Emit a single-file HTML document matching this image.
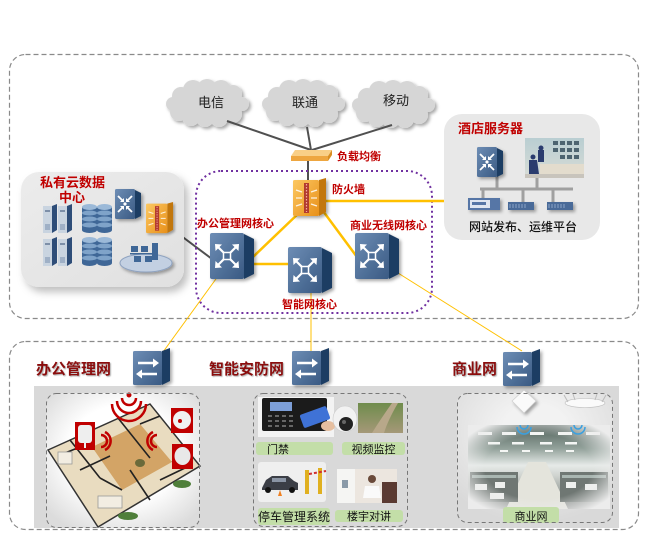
<!DOCTYPE html>
<html><head><meta charset="utf-8">
<style>
html,body{margin:0;padding:0;background:#fff;}
svg{display:block;}
text{font-family:"Liberation Sans","Noto Sans CJK SC",sans-serif;}
</style></head><body>
<svg width="649" height="543" viewBox="0 0 649 543" xmlns="http://www.w3.org/2000/svg">
<defs>
  <linearGradient id="bf" x1="0" y1="0" x2="1" y2="1"><stop offset="0" stop-color="#6d8db5"/><stop offset="1" stop-color="#3a5a83"/></linearGradient>
  <linearGradient id="of" x1="0" y1="0" x2="1" y2="1"><stop offset="0" stop-color="#fcc862"/><stop offset="1" stop-color="#e8901a"/></linearGradient>
  <linearGradient id="office" x1="0" y1="0" x2="0" y2="1">
    <stop offset="0" stop-color="#4f5f59"/><stop offset="0.28" stop-color="#93a29b"/><stop offset="0.48" stop-color="#e6eae8"/><stop offset="0.6" stop-color="#d0d4d0"/><stop offset="0.8" stop-color="#9aa09c"/><stop offset="1" stop-color="#8a8e8c"/>
  </linearGradient>
  <radialGradient id="vig" cx="0.5" cy="0.5" r="0.62"><stop offset="0.62" stop-color="#ececec" stop-opacity="0"/><stop offset="1" stop-color="#ececec" stop-opacity="1"/></radialGradient>
  <radialGradient id="wbg" cx="0.5" cy="0.45" r="0.65"><stop offset="0.55" stop-color="#ffffff"/><stop offset="1" stop-color="#dcdcdc"/></radialGradient>
  <radialGradient id="cbg" cx="0.5" cy="0.3" r="0.7"><stop offset="0.3" stop-color="#f2f2f2"/><stop offset="1" stop-color="#d9d9d9"/></radialGradient>
  <linearGradient id="pcb" x1="0" y1="0" x2="1" y2="1"><stop offset="0" stop-color="#ececec"/><stop offset="1" stop-color="#e0e0e0"/></linearGradient>
  <linearGradient id="land" x1="0" y1="0" x2="0" y2="1"><stop offset="0" stop-color="#6f8c4c"/><stop offset="1" stop-color="#a59878"/></linearGradient>
  <linearGradient id="hp" x1="0" y1="0" x2="0" y2="1"><stop offset="0" stop-color="#b9ced2"/><stop offset="1" stop-color="#d8dcd6"/></linearGradient>
  <filter id="sh" x="-30%" y="-30%" width="170%" height="170%"><feDropShadow dx="2" dy="2" stdDeviation="1.5" flood-color="#000" flood-opacity="0.35"/></filter>
  <filter id="shb" x="-20%" y="-20%" width="150%" height="150%"><feDropShadow dx="4" dy="5" stdDeviation="4" flood-color="#000" flood-opacity="0.25"/></filter>
  <filter id="tsh" x="-10%" y="-20%" width="130%" height="150%"><feDropShadow dx="1" dy="1" stdDeviation="0.4" flood-color="#555" flood-opacity="0.5"/></filter>

  <g id="cl">
    <rect x="8" y="10" width="66" height="28" rx="10"/>
    <circle cx="14" cy="16" r="9"/><circle cx="26" cy="10" r="10"/><circle cx="40" cy="9" r="10"/><circle cx="54" cy="10" r="10"/><circle cx="66" cy="14" r="9"/>
    <circle cx="12" cy="32" r="9"/><circle cx="24" cy="37" r="9"/><circle cx="38" cy="38" r="9"/><circle cx="52" cy="38" r="9"/><circle cx="66" cy="34" r="9"/>
    <circle cx="6" cy="24" r="7"/><circle cx="75" cy="24" r="7"/>
  </g>

  <g id="core">
    <polygon points="34,1 44,6 44,41 34,46" fill="#1d3d63"/>
    <rect x="0" y="0" width="34" height="46" rx="2" fill="url(#bf)"/>
    <path d="M17 23 L8 14 M17 23 L26 14 M17 23 L8 32 M17 23 L26 32" stroke="#fff" stroke-width="2.2" fill="none" stroke-linecap="round"/>
    <g fill="#fff">
      <polygon points="5,11 12,11.5 5.5,18"/><polygon points="29,11 22,11.5 28.5,18"/>
      <polygon points="5,35 12,34.5 5.5,28"/><polygon points="29,35 22,34.5 28.5,28"/>
    </g>
    <rect x="13.5" y="19.5" width="7" height="7" fill="#4d6d95" stroke="#fff" stroke-width="1.5"/>
  </g>

  <g id="rt">
    <polygon points="20,1 26,4 26,27 20,30" fill="#1d3d63"/>
    <rect x="0" y="0" width="20" height="30" rx="1.5" fill="url(#bf)"/>
    <path d="M3 7 L8 12 M17 7 L12 12 M3 23 L8 18 M17 23 L12 18" stroke="#fff" stroke-width="1.8" fill="none"/>
    <g fill="#fff">
      <polygon points="9,13 9,9 5,13"/><polygon points="11,13 11,9 15,13"/>
      <polygon points="9,17 9,21 5,17"/><polygon points="11,17 11,21 15,17"/>
    </g>
    <circle cx="10" cy="15" r="1.6" fill="#fff"/>
  </g>

  <g id="acc">
    <polygon points="29,3 37,0 37,33 29,37" fill="#1d3d63"/>
    <rect x="0" y="3" width="29" height="34" rx="1.5" fill="url(#bf)"/>
    <path d="M5 15 H22 M24 26 H8" stroke="#fff" stroke-width="2.4" fill="none"/>
    <polygon points="26,15 20,10.5 20,19.5" fill="#fff"/>
    <polygon points="3,26 9,21.5 9,30.5" fill="#fff"/>
  </g>

  <g id="fw">
    <polygon points="26,2 33,0 33,34 26,38" fill="#c2770e"/>
    <rect x="0" y="2" width="26" height="36" rx="1.5" fill="url(#of)"/>
    <rect x="11" y="5" width="5" height="30" fill="#b23a2e"/>
    <line x1="13.5" y1="6" x2="13.5" y2="34" stroke="#f4a8a0" stroke-width="1.2" stroke-dasharray="1.5 1.5"/>
    <path d="M3 12 L9 14 M3 20 H9 M3 28 L9 26 M18 14 L24 12 M18 20 H24 M18 26 L24 28" stroke="#fff" stroke-width="1.3" opacity="0.85"/>
  </g>
</defs>

<!-- outer dashed boxes -->
<rect x="9.5" y="54.5" width="629" height="264" rx="16" fill="none" stroke="#8a8a8a" stroke-width="1.2" stroke-dasharray="5 3"/>
<rect x="9.5" y="341.5" width="629" height="188" rx="16" fill="none" stroke="#8a8a8a" stroke-width="1.2" stroke-dasharray="5 3"/>

<!-- clouds -->
<g fill="#d6d6d6" filter="url(#sh)">
  <use href="#cl" transform="translate(167,80)"/>
  <use href="#cl" transform="translate(263,80)"/>
  <use href="#cl" transform="translate(353,81)"/>
</g>
<text x="211" y="107" font-size="13" text-anchor="middle" fill="#222">电信</text>
<text x="305" y="107" font-size="13" text-anchor="middle" fill="#222">联通</text>
<text x="396" y="105" font-size="13" text-anchor="middle" fill="#222">移动</text>

<!-- dark links -->
<g stroke="#505050" stroke-width="2" fill="none">
  <line x1="227" y1="121" x2="311" y2="150"/>
  <line x1="307" y1="127" x2="311" y2="150"/>
  <line x1="392" y1="125" x2="312" y2="150"/>
  <line x1="308" y1="160" x2="308" y2="182"/>
  <line x1="172" y1="229" x2="212" y2="259"/>
  <line x1="140" y1="203" x2="149" y2="209"/>
</g>

<!-- private cloud box -->
<rect x="21" y="172" width="163" height="115" rx="18" fill="url(#pcb)" filter="url(#shb)"/>
<text x="40" y="187" font-size="13" font-weight="bold" fill="#c00000">私有云数据</text>
<text x="72" y="202" font-size="13" font-weight="bold" fill="#c00000" text-anchor="middle">中心</text>
<g>
  <g transform="translate(43,204)"><rect x="0" y="2" width="9" height="27" fill="#c9d4e0"/><polygon points="9,2 14,0 14,26 9,29" fill="#2e4d78"/><rect x="2" y="6" width="5" height="2" fill="#7d8fa8"/><rect x="2" y="20" width="5" height="6" fill="#9fb0c6"/></g>
  <g transform="translate(58,204)"><rect x="0" y="2" width="9" height="27" fill="#c9d4e0"/><polygon points="9,2 14,0 14,26 9,29" fill="#2e4d78"/><rect x="2" y="6" width="5" height="2" fill="#7d8fa8"/><rect x="2" y="20" width="5" height="6" fill="#9fb0c6"/></g>
  <g transform="translate(43,237)"><rect x="0" y="2" width="9" height="27" fill="#c9d4e0"/><polygon points="9,2 14,0 14,26 9,29" fill="#2e4d78"/><rect x="2" y="6" width="5" height="2" fill="#7d8fa8"/><rect x="2" y="20" width="5" height="6" fill="#9fb0c6"/></g>
  <g transform="translate(58,237)"><rect x="0" y="2" width="9" height="27" fill="#c9d4e0"/><polygon points="9,2 14,0 14,26 9,29" fill="#2e4d78"/><rect x="2" y="6" width="5" height="2" fill="#7d8fa8"/><rect x="2" y="20" width="5" height="6" fill="#9fb0c6"/></g>
</g>
<g>
  <g transform="translate(82,204)"><rect x="0" y="3" width="15" height="23" fill="#3f6797"/><ellipse cx="7.5" cy="26" rx="7.5" ry="3" fill="#3f6797"/><ellipse cx="7.5" cy="9" rx="7.5" ry="2.5" fill="#7fa3c9"/><ellipse cx="7.5" cy="15" rx="7.5" ry="2.5" fill="#7fa3c9"/><ellipse cx="7.5" cy="21" rx="7.5" ry="2.5" fill="#7fa3c9"/><ellipse cx="7.5" cy="3" rx="7.5" ry="3" fill="#9bb9d8"/></g>
  <g transform="translate(97,204)"><rect x="0" y="3" width="15" height="23" fill="#3f6797"/><ellipse cx="7.5" cy="26" rx="7.5" ry="3" fill="#3f6797"/><ellipse cx="7.5" cy="9" rx="7.5" ry="2.5" fill="#7fa3c9"/><ellipse cx="7.5" cy="15" rx="7.5" ry="2.5" fill="#7fa3c9"/><ellipse cx="7.5" cy="21" rx="7.5" ry="2.5" fill="#7fa3c9"/><ellipse cx="7.5" cy="3" rx="7.5" ry="3" fill="#9bb9d8"/></g>
  <g transform="translate(82,237)"><rect x="0" y="3" width="15" height="23" fill="#3f6797"/><ellipse cx="7.5" cy="26" rx="7.5" ry="3" fill="#3f6797"/><ellipse cx="7.5" cy="9" rx="7.5" ry="2.5" fill="#7fa3c9"/><ellipse cx="7.5" cy="15" rx="7.5" ry="2.5" fill="#7fa3c9"/><ellipse cx="7.5" cy="21" rx="7.5" ry="2.5" fill="#7fa3c9"/><ellipse cx="7.5" cy="3" rx="7.5" ry="3" fill="#9bb9d8"/></g>
  <g transform="translate(97,237)"><rect x="0" y="3" width="15" height="23" fill="#3f6797"/><ellipse cx="7.5" cy="26" rx="7.5" ry="3" fill="#3f6797"/><ellipse cx="7.5" cy="9" rx="7.5" ry="2.5" fill="#7fa3c9"/><ellipse cx="7.5" cy="15" rx="7.5" ry="2.5" fill="#7fa3c9"/><ellipse cx="7.5" cy="21" rx="7.5" ry="2.5" fill="#7fa3c9"/><ellipse cx="7.5" cy="3" rx="7.5" ry="3" fill="#9bb9d8"/></g>
</g>
<ellipse cx="146" cy="263" rx="26" ry="9" fill="#c3d0e2" stroke="#8fa3c0" stroke-width="1" filter="url(#sh)"/>
<g fill="#3f6797">
  <rect x="131" y="246" width="7" height="6"/><rect x="141" y="246" width="7" height="6"/><rect x="152" y="243" width="6" height="17"/>
  <rect x="134" y="256" width="7" height="6"/><rect x="145" y="256" width="7" height="6"/>
  <rect x="130" y="253" width="24" height="1.5"/>
</g>
<use href="#rt" x="115" y="189" filter="url(#sh)"/>
<use href="#fw" transform="translate(146,202) scale(0.82)" filter="url(#sh)"/>

<!-- hotel server box -->
<rect x="444" y="114" width="156" height="126" rx="18" fill="#e8e8e8"/>
<text x="458" y="133" font-size="13" font-weight="bold" fill="#c00000">酒店服务器</text>
<g stroke="#a0a0a0" stroke-width="3" fill="none">
  <line x1="480" y1="189" x2="573" y2="189"/>
  <line x1="497" y1="176" x2="497" y2="189"/>
  <line x1="537" y1="177" x2="537" y2="189"/>
  <line x1="483" y1="189" x2="483" y2="198"/>
  <line x1="523" y1="189" x2="523" y2="202"/>
  <line x1="553" y1="189" x2="553" y2="202"/>
</g>
<use href="#rt" x="477" y="147" filter="url(#sh)"/>
<rect x="525" y="138" width="59" height="40" fill="url(#hp)"/>
<g fill="#4d6470">
  <rect x="553" y="141" width="5" height="4"/><rect x="560" y="141" width="5" height="4"/><rect x="567" y="141" width="5" height="4"/><rect x="574" y="141" width="5" height="4"/>
  <rect x="553" y="148" width="5" height="4"/><rect x="560" y="148" width="5" height="4"/><rect x="567" y="148" width="5" height="4"/><rect x="574" y="148" width="5" height="4"/>
  <rect x="560" y="155" width="5" height="4"/><rect x="567" y="155" width="5" height="4"/><rect x="574" y="155" width="5" height="4"/>
</g>
<rect x="540" y="164" width="44" height="10" fill="#e3dccd"/>
<rect x="525" y="174" width="59" height="4" fill="#c8c4bc"/>
<g fill="#2a3c6e">
  <circle cx="541" cy="148" r="2.5"/><rect x="538" y="150" width="6" height="12"/>
  <circle cx="533" cy="157" r="2.5"/><path d="M529 160 h8 l2 14 h-10 z"/>
</g>
<g filter="url(#sh)">
  <rect x="468" y="198" width="32" height="12" fill="#5676a6"/><rect x="470" y="200" width="20" height="8" fill="#dfe6f0"/><rect x="472" y="202" width="14" height="3" fill="#5676a6"/>
  <rect x="508" y="202" width="26" height="8" fill="#4a6a98"/><path d="M510 204 v4 M513 204 v4 M516 204 v4 M519 204 v4 M522 204 v4 M525 204 v4" stroke="#8aa4c8" stroke-width="1"/>
  <rect x="547" y="202" width="26" height="8" fill="#4a6a98"/><path d="M549 204 v4 M552 204 v4 M555 204 v4 M558 204 v4 M561 204 v4 M564 204 v4" stroke="#8aa4c8" stroke-width="1"/>
</g>
<text x="469" y="231" font-size="12" fill="#111" font-weight="500">网站发布、运维平台</text>

<!-- core area -->
<rect x="196" y="171" width="236" height="142" rx="25" fill="none" stroke="#7030a0" stroke-width="2" stroke-dasharray="2 3"/>
<g stroke="#ffc000" stroke-width="2.5" fill="none">
  <line x1="301" y1="211" x2="253" y2="257"/>
  <line x1="254" y1="264" x2="290" y2="264"/>
  <line x1="323" y1="211" x2="357" y2="257"/>
  <line x1="326" y1="201" x2="444" y2="201"/>
</g>
<g stroke="#ffc000" stroke-width="1" fill="none">
  <line x1="221" y1="272" x2="163" y2="352"/>
  <line x1="311" y1="290" x2="311" y2="351"/>
  <line x1="398" y1="273" x2="522" y2="351"/>
</g>
<polygon points="295,150 332,150 328,156 291,156" fill="#f9cf87"/>
<polygon points="291,156 328,156 328,161 291,161" fill="#eea640"/>
<polygon points="328,156 332,150 332,155 328,161" fill="#d88e22"/>
<text x="337" y="160" font-size="11" font-weight="bold" fill="#c00000">负载均衡</text>
<use href="#fw" x="293" y="178" filter="url(#sh)"/>
<text x="332" y="193" font-size="11" font-weight="bold" fill="#c00000">防火墙</text>
<use href="#core" x="210" y="233" filter="url(#sh)"/>
<use href="#core" x="288" y="247" filter="url(#sh)"/>
<use href="#core" x="355" y="233" filter="url(#sh)"/>
<text x="197" y="227" font-size="11" font-weight="bold" fill="#c00000">办公管理网核心</text>
<text x="350" y="229" font-size="11" font-weight="bold" fill="#c00000">商业无线网核心</text>
<text x="282" y="308" font-size="11" font-weight="bold" fill="#c00000">智能网核心</text>

<!-- bottom section -->
<rect x="34" y="386" width="585" height="142" fill="#d9d9d9"/>
<text x="36" y="374" font-size="15" font-weight="bold" fill="#8b0a0a" filter="url(#tsh)">办公管理网</text>
<text x="209" y="374" font-size="15" font-weight="bold" fill="#8b0a0a" filter="url(#tsh)">智能安防网</text>
<text x="452" y="374" font-size="15" font-weight="bold" fill="#8b0a0a" filter="url(#tsh)">商业网</text>
<use href="#acc" x="133" y="348" filter="url(#sh)"/>
<use href="#acc" x="292" y="348" filter="url(#sh)"/>
<use href="#acc" x="503" y="349" filter="url(#sh)"/>

<!-- office sub box -->
<rect x="46" y="393" width="154" height="135" rx="10" fill="url(#wbg)"/>
<polygon points="48,450 150,404 200,466 98,527" fill="#e9dcc0" stroke="#333" stroke-width="1.5"/>
<polygon points="92,447 140,424 172,462 122,490" fill="#d3a466"/>
<g stroke="#222" stroke-width="1.6" fill="none">
  <path d="M70 440 L100 478 M100 478 L122 490 M118 418 L150 458 M140 424 L160 416 M172 462 L190 454 M80 470 L110 456 M130 470 L150 500 M160 480 L185 468 M60 455 L85 445"/>
</g>
<g fill="#f2ede2" stroke="#999" stroke-width="0.8">
  <rect x="98" y="496" width="24" height="12"/><rect x="58" y="452" width="14" height="12"/>
</g>
<g fill="#4f7f3a">
  <ellipse cx="128" cy="516" rx="10" ry="4"/><ellipse cx="182" cy="484" rx="9" ry="4"/><ellipse cx="140" cy="463" rx="5" ry="4" fill="#6b6a3a"/>
</g>
<g fill="none" stroke="#c00000" stroke-width="2.5">
  <path d="M122 398 A7 7 0 0 0 136 398"/>
  <path d="M117 401 A12 12 0 0 0 141 401"/>
  <path d="M112 404 A17 17 0 0 0 146 404"/>
  <path d="M101 435 A6 6 0 0 1 101 447"/><path d="M105 432 A10 10 0 0 1 105 450"/>
  <path d="M157 435 A6 6 0 0 0 157 447"/><path d="M153 432 A10 10 0 0 0 153 450"/>
</g>
<circle cx="129" cy="395" r="2.5" fill="#c00000"/>
<rect x="75" y="422" width="20" height="28" fill="#c00000"/>
<rect x="78" y="425" width="14" height="18" rx="3" fill="#eeeeee"/><rect x="84" y="443" width="2" height="5" fill="#eee"/>
<rect x="171" y="408" width="22" height="25" fill="#c00000"/>
<circle cx="182" cy="420" r="9" fill="#f0f0f0"/><circle cx="180" cy="421" r="2" fill="#c00000"/>
<rect x="172" y="444" width="21" height="25" fill="#c00000"/>
<ellipse cx="182.5" cy="456" rx="8" ry="9" fill="#e8e8e8"/>
<rect x="46.5" y="393.5" width="153" height="134" rx="10" fill="none" stroke="#777" stroke-width="1" stroke-dasharray="4 3"/>

<!-- security sub box -->
<rect x="253.5" y="393.5" width="154" height="133" rx="10" fill="none" stroke="#777" stroke-width="1" stroke-dasharray="4 3"/>
<rect x="258" y="397" width="76" height="40" fill="#f3f3f3"/>
<rect x="262" y="398" width="65" height="33" rx="2" fill="#1b1b1b"/>
<rect x="270" y="402" width="22" height="9" fill="#7d9fd8"/>
<g fill="#666">
  <rect x="268" y="415" width="4" height="2"/><rect x="275" y="415" width="4" height="2"/><rect x="282" y="415" width="4" height="2"/><rect x="289" y="415" width="4" height="2"/>
  <rect x="268" y="420" width="4" height="2"/><rect x="275" y="420" width="4" height="2"/><rect x="282" y="420" width="4" height="2"/><rect x="289" y="420" width="4" height="2"/>
  <rect x="268" y="425" width="4" height="2"/><rect x="275" y="425" width="4" height="2"/><rect x="282" y="425" width="4" height="2"/><rect x="289" y="425" width="4" height="2"/>
</g>
<rect x="301" y="410" width="28" height="14" rx="2" fill="#3f72d6" transform="rotate(-20 315 417)"/>
<ellipse cx="328" cy="426" rx="7" ry="5" fill="#e6bfa0"/>
<ellipse cx="345" cy="419" rx="12" ry="13" fill="#f2f2f2" stroke="#ccc" stroke-width="0.6"/>
<circle cx="346" cy="424" r="7" fill="#222"/><circle cx="344" cy="422" r="2" fill="#666"/>
<rect x="358" y="403" width="45" height="30" fill="url(#land)"/>
<path d="M372 433 Q380 420 392 403 L398 403 Q388 420 384 433 Z" fill="#b8a88a"/>
<rect x="256" y="442" width="77" height="13" rx="3" fill="#c3dea8"/>
<text x="267" y="453" font-size="11" fill="#111">门禁</text>
<rect x="342" y="442" width="63" height="13" rx="3" fill="#c3dea8"/>
<text x="373.5" y="453" font-size="11" fill="#111" text-anchor="middle">视频监控</text>
<rect x="258" y="462" width="68" height="40" rx="3" fill="#efefef"/>
<path d="M262 488 L266 480 L272 476 L288 476 L294 481 L298 483 L298 490 L262 490 Z" fill="#3b3e46"/>
<rect x="272" y="478" width="14" height="4" fill="#8a94a4"/>
<circle cx="268" cy="490" r="3" fill="#111"/><circle cx="292" cy="490" r="3" fill="#111"/>
<rect x="305" y="470" width="4" height="24" fill="#e0b020"/><rect x="318" y="468" width="4" height="26" fill="#e0b020"/>
<line x1="309" y1="474" x2="326" y2="471" stroke="#d03030" stroke-width="2" stroke-dasharray="3 2"/>
<polygon points="278,496 282,496 280,490" fill="#f08020"/>
<rect x="337" y="469" width="60" height="34" fill="#ece6df"/>
<rect x="337" y="469" width="18" height="34" fill="#f5f5f3"/><rect x="342" y="480" width="6" height="8" fill="#8a9aa8"/>
<circle cx="372" cy="479" r="4" fill="#6a4a3a"/><path d="M365 486 h14 l2 12 h-18 z" fill="#fafafa"/>
<rect x="382" y="482" width="15" height="21" fill="#5a3a32"/>
<rect x="258" y="508" width="72" height="17" rx="3" fill="#c3dea8"/>
<text x="258" y="521" font-size="12" fill="#111">停车管理系统</text>
<rect x="335" y="510" width="68" height="12" rx="3" fill="#c3dea8"/>
<text x="369" y="520" font-size="11" fill="#111" text-anchor="middle">楼宇对讲</text>

<!-- commercial sub box -->
<rect x="457" y="393" width="156" height="130" rx="10" fill="url(#cbg)"/>
<rect x="468" y="425" width="142" height="84" fill="url(#office)"/>
<g fill="#f4f6f4">
  <rect x="478" y="432" width="14" height="3"/><rect x="502" y="432" width="14" height="3"/><rect x="530" y="432" width="14" height="3"/><rect x="558" y="432" width="14" height="3"/><rect x="586" y="432" width="14" height="3"/>
  <rect x="488" y="442" width="12" height="2.5"/><rect x="512" y="442" width="12" height="2.5"/><rect x="540" y="442" width="12" height="2.5"/><rect x="565" y="442" width="12" height="2.5"/>
  <rect x="500" y="450" width="8" height="2"/><rect x="522" y="450" width="8" height="2"/><rect x="545" y="450" width="8" height="2"/><rect x="566" y="450" width="8" height="2"/>
</g>
<polygon points="528,462 546,462 568,509 506,509" fill="#e4e4dc"/>
<g fill="#6f7773">
  <rect x="470" y="472" width="48" height="30"/><rect x="560" y="472" width="48" height="30"/>
</g>
<g fill="#a9b6b1">
  <rect x="472" y="475" width="44" height="3"/><rect x="562" y="475" width="44" height="3"/>
</g>
<g fill="#eef0ee">
  <rect x="475" y="484" width="12" height="6"/><rect x="495" y="482" width="10" height="6"/>
  <rect x="566" y="482" width="10" height="6"/><rect x="585" y="484" width="12" height="6"/>
  <rect x="490" y="493" width="14" height="6"/>
</g>
<rect x="468" y="425" width="142" height="84" fill="url(#vig)"/>
<polygon points="524,390 536,401 524,413 512,401" fill="#fafafa" stroke="#ccc" stroke-width="0.6" filter="url(#sh)"/>
<ellipse cx="585" cy="403" rx="20" ry="4.5" fill="#fafafa" stroke="#bbb" stroke-width="0.6"/>
<path d="M568 402 L564 395 M602 402 L606 395 M575 400 L573 394 M595 400 L597 394" stroke="#bbb" stroke-width="1"/>
<g fill="none" stroke="#3aa0e0" stroke-width="1.5">
  <path d="M520 425 A4 4 0 0 0 528 425"/><path d="M517 427 A7 7 0 0 0 531 427"/>
  <path d="M574 425 A4 4 0 0 0 582 425"/><path d="M571 427 A7 7 0 0 0 585 427"/>
</g>
<rect x="503" y="507" width="56" height="16" rx="3" fill="#c3dea8"/>
<text x="531" y="520" font-size="11" fill="#111" text-anchor="middle">商业网</text>
<rect x="457.5" y="393.5" width="155" height="129" rx="10" fill="none" stroke="#777" stroke-width="1" stroke-dasharray="4 3"/>
</svg>
</body></html>
